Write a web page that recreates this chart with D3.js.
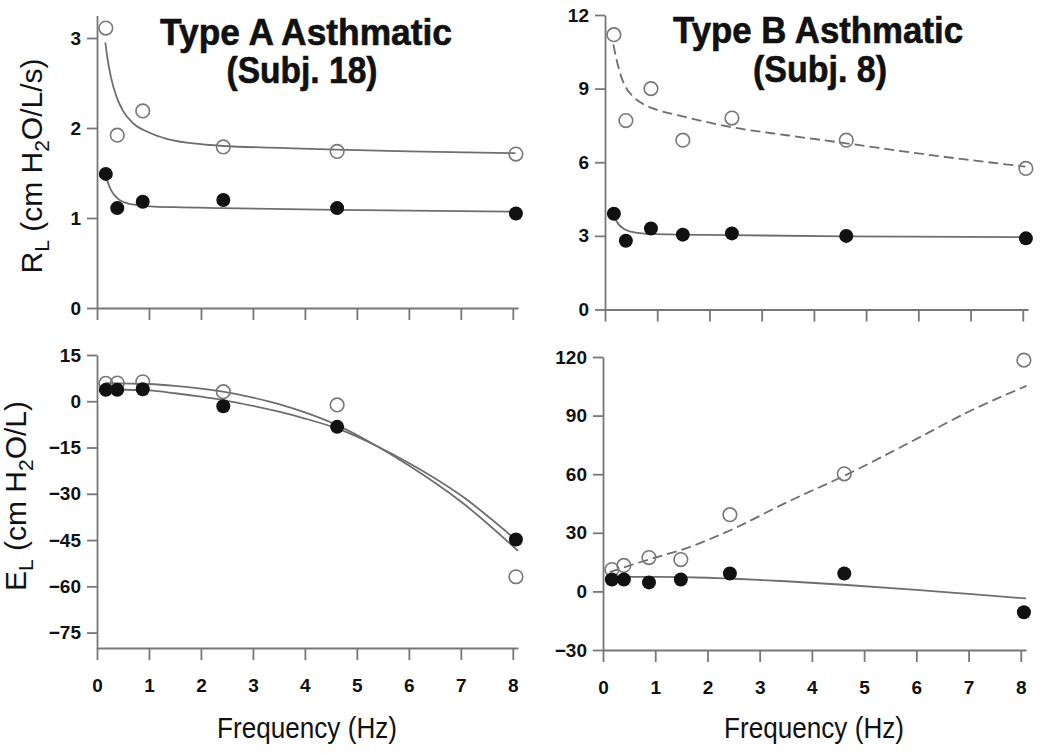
<!DOCTYPE html>
<html>
<head>
<meta charset="utf-8">
<script src="https://cdn.jsdelivr.net/npm/d3@7"></script>
<style>
  body { margin: 0; background: #fff; }
  svg { display: block; font-family: "Liberation Sans", Arial, sans-serif; }
  .axis path, .axis line { stroke: #777; stroke-width: 1.8; }
  .axis text { font-size: 19px; font-weight: bold; fill: #111; font-family: "Liberation Sans", Arial, sans-serif; }
</style>
</head>
<body>
<div class="board"></div>
<script>
// measured points, frequency in Hz
var freqA = [0.17, 0.39, 0.88, 2.43, 4.62, 8.06];
var freqB = [0.17, 0.40, 0.88, 1.49, 2.43, 4.62, 8.06];

// resistance R_L
var rA_open   = [3.11, 1.92, 2.19, 1.79, 1.74, 1.71];
var rA_closed = [1.49, 1.11, 1.18, 1.20, 1.11, 1.05];
var rB_open   = [11.2, 7.7, 9.0, 6.9, 7.8, 6.9, 5.75];
var rB_closed = [3.9, 2.8, 3.3, 3.05, 3.1, 3.0, 2.9];

// elastance E_L
var eA_open   = [5.8, 5.9, 6.3, 3.1, -1.2, -56.9];
var eA_closed = [3.7, 3.7, 3.9, -1.6, -8.3, -44.8];
var eB_open   = [11.2, 13.3, 17.3, 16.3, 39.3, 60.2, 118.4];
var eB_closed = [6.1, 6.1, 4.6, 6.1, 9.2, 9.2, -10.7];

// fitted curves
var rA_openFitF = [0.16, 0.2, 0.27, 0.38, 0.5, 0.7, 1.0, 1.34, 2.0, 2.43, 3.5, 4.61, 6, 8.05];
var rA_openFitV = [2.95, 2.78, 2.56, 2.34, 2.19, 2.05, 1.95, 1.88, 1.82, 1.80, 1.78, 1.76, 1.74, 1.72];
var rA_closedFitF = [0.17, 0.27, 0.39, 0.6, 0.86, 1.02, 1.5, 2.42, 4.61, 8.05];
var rA_closedFitV = [1.46, 1.31, 1.22, 1.16, 1.14, 1.13, 1.12, 1.11, 1.09, 1.07];

var rB_openFitF = [0.16, 0.22, 0.3, 0.4, 0.55, 0.75, 1.0, 1.43, 2.45, 3.48, 4.59, 6.03, 8.05];
var rB_openFitV = [10.8, 10.2, 9.55, 9.05, 8.65, 8.35, 8.13, 7.9, 7.42, 7.1, 6.78, 6.35, 5.82];
var rB_closedFitF = [0.17, 0.25, 0.35, 0.5, 0.7, 1.0, 2.4, 4.6, 8.05];
var rB_closedFitV = [3.8, 3.5, 3.3, 3.17, 3.1, 3.07, 3.03, 2.98, 2.95];

var eA_openFitF = [0.16, 1.0, 1.5, 2.0, 2.42, 3.0, 3.5, 4.0, 4.63, 5.38, 6.0, 7.0, 8.1];
var eA_openFitV = [5.9, 5.6, 5.0, 4.1, 3.1, 1.2, -0.9, -3.6, -7.8, -14.5, -20.8, -32.5, -48.5];
var eA_closedFitF = [0.16, 0.5, 1.0, 1.5, 2.0, 2.42, 3.0, 3.5, 4.0, 4.63, 5.38, 6.0, 7.0, 8.1];
var eA_closedFitV = [3.8, 3.75, 3.5, 2.6, 1.5, 0.4, -1.5, -3.4, -5.6, -8.9, -14.5, -20.0, -30.5, -45.5];

var eB_openFitF = [0.13, 0.4, 0.96, 1.47, 2.43, 3.51, 4.63, 6.07, 7.0, 8.11];
var eB_openFitV = [9.9, 12.3, 17.0, 21.0, 31.2, 45.5, 59.3, 79.0, 92.0, 105.2];
var eB_closedFitF = [0.13, 1.0, 2.0, 2.41, 3.5, 4.6, 6.0, 7.0, 8.1];
var eB_closedFitV = [7.4, 7.4, 7.0, 6.6, 5.2, 3.4, 0.8, -1.3, -3.6];

var xTicks = [0, 1, 2, 3, 4, 5, 6, 7, 8];

var svg = d3.select(".board").append("svg")
  .attr("width", 1050)
  .attr("height", 753);

svg.append("rect").attr("width", 1050).attr("height", 753).attr("fill", "#fff");

function zip(f, v) {
  return f.map(function(d, i) { return {f: d, v: v[i]}; });
}

function drawPanel(p) {
  var x = d3.scaleLinear().domain([0, 8.1]).range([p.x0, p.x1]);
  var y = d3.scaleLinear().domain(p.yDomain).range([p.y0, p.y1]);

  svg.append("g").attr("class", "axis")
    .attr("transform", "translate(0," + p.y0 + ")")
    .call(d3.axisBottom(x).tickValues(xTicks).tickSize(12).tickSizeOuter(0)
      .tickPadding(19).tickFormat(p.xLabels ? d3.format("d") : ""));

  svg.append("g").attr("class", "axis")
    .attr("transform", "translate(" + p.x0 + ",0)")
    .call(d3.axisLeft(y).tickValues(p.yTicks).tickSize(10).tickSizeOuter(0)
      .tickPadding(6).tickFormat(d3.format("d")));

  var line = d3.line()
    .x(function(d) { return x(d.f); })
    .y(function(d) { return y(d.v); })
    .curve(d3.curveMonotoneX);

  svg.append("path").datum(zip(p.openFitF, p.openFitV))
    .attr("d", line)
    .attr("fill", "none")
    .attr("stroke", "#6e6e6e")
    .attr("stroke-width", 1.8)
    .attr("stroke-dasharray", p.dashed ? "10,5" : null);

  svg.append("path").datum(zip(p.closedFitF, p.closedFitV))
    .attr("d", line)
    .attr("fill", "none")
    .attr("stroke", "#6e6e6e")
    .attr("stroke-width", 1.8);

  svg.append("g").selectAll("circle").data(zip(p.freq, p.open))
    .enter().append("circle")
    .attr("cx", function(d) { return x(d.f); })
    .attr("cy", function(d) { return y(d.v); })
    .attr("r", 6.8)
    .attr("fill", "none")
    .attr("stroke", "#777")
    .attr("stroke-width", 1.6);

  svg.append("g").selectAll("circle").data(zip(p.freq, p.closed))
    .enter().append("circle")
    .attr("cx", function(d) { return x(d.f); })
    .attr("cy", function(d) { return y(d.v); })
    .attr("r", 7)
    .attr("fill", "#111");
}

drawPanel({x0: 97, x1: 518, y0: 308, y1: 15.5, yDomain: [0, 3.25], yTicks: [0, 1, 2, 3],
  freq: freqA, open: rA_open, closed: rA_closed,
  openFitF: rA_openFitF, openFitV: rA_openFitV, closedFitF: rA_closedFitF, closedFitV: rA_closedFitV,
  dashed: false, xLabels: false});

drawPanel({x0: 605, x1: 1028, y0: 309.5, y1: 15, yDomain: [0, 12], yTicks: [0, 3, 6, 9, 12],
  freq: freqB, open: rB_open, closed: rB_closed,
  openFitF: rB_openFitF, openFitV: rB_openFitV, closedFitF: rB_closedFitF, closedFitV: rB_closedFitV,
  dashed: true, xLabels: false});

drawPanel({x0: 97, x1: 518, y0: 648, y1: 355, yDomain: [-80, 15], yTicks: [15, 0, -15, -30, -45, -60, -75],
  freq: freqA, open: eA_open, closed: eA_closed,
  openFitF: eA_openFitF, openFitV: eA_openFitV, closedFitF: eA_closedFitF, closedFitV: eA_closedFitV,
  dashed: false, xLabels: true});

drawPanel({x0: 603, x1: 1026, y0: 650, y1: 357, yDomain: [-30, 120], yTicks: [-30, 0, 30, 60, 90, 120],
  freq: freqB, open: eB_open, closed: eB_closed,
  openFitF: eB_openFitF, openFitV: eB_openFitV, closedFitF: eB_closedFitF, closedFitV: eB_closedFitV,
  dashed: true, xLabels: true});

// titles
function title(txt, cx, by, len) {
  svg.append("text")
    .attr("x", cx).attr("y", by)
    .attr("text-anchor", "middle")
    .attr("font-size", 36).attr("font-weight", "bold")
    .attr("textLength", len).attr("lengthAdjust", "spacingAndGlyphs")
    .attr("fill", "#111")
    .attr("stroke", "#111").attr("stroke-width", 0.6)
    .text(txt);
}
title("Type A Asthmatic", 306, 45, 292);
title("(Subj. 18)", 302, 83, 151);
title("Type B Asthmatic", 818, 43, 290);
title("(Subj. 8)", 820, 82, 134);

// x axis titles
[307, 814].forEach(function(cx) {
  svg.append("text")
    .attr("x", cx).attr("y", 738)
    .attr("text-anchor", "middle")
    .attr("font-size", 29)
    .attr("textLength", 180).attr("lengthAdjust", "spacingAndGlyphs")
    .attr("fill", "#111")
    .text("Frequency (Hz)");
});

// y axis titles
function yTitle(sym, unit, bx, cy) {
  var t = svg.append("text")
    .attr("transform", "translate(" + bx + "," + cy + ") rotate(-90)")
    .attr("text-anchor", "middle")
    .attr("font-size", 30)
    .attr("fill", "#111");
  t.append("tspan").text(sym);
  t.append("tspan").attr("font-size", 21).attr("dy", 7).text("L");
  t.append("tspan").attr("dy", -7).text(" (cm H");
  t.append("tspan").attr("font-size", 21).attr("dy", 7).text("2");
  t.append("tspan").attr("dy", -7).text(unit);
}
yTitle("R", "O/L/s)", 42, 166);
yTitle("E", "O/L)", 26, 496);
</script>
</body>
</html>
